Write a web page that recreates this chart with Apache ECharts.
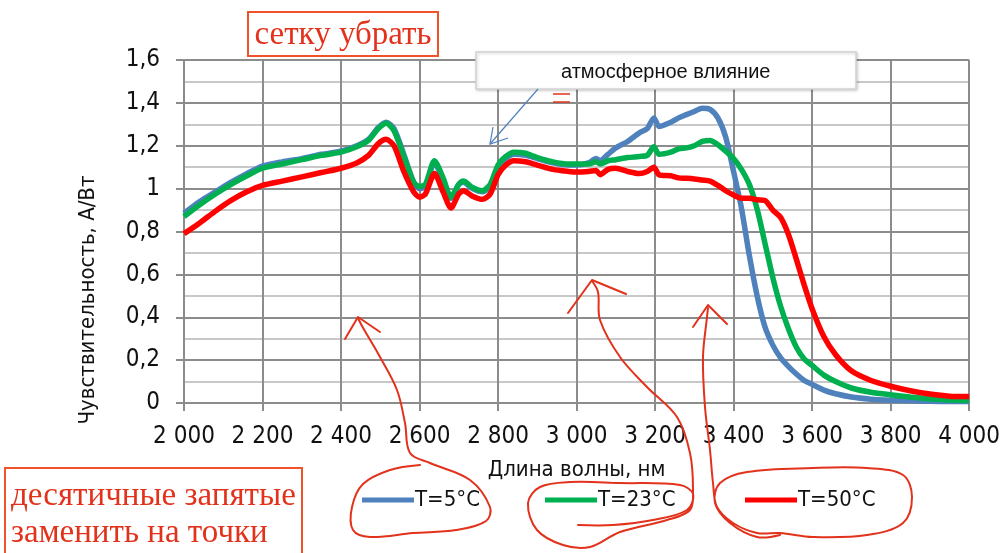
<!DOCTYPE html>
<html>
<head>
<meta charset="utf-8">
<script src="https://cdn.jsdelivr.net/npm/echarts@6/dist/echarts.min.js"></script>
<style>
  html, body { margin: 0; padding: 0; background: #fff; }
  #chart { width: 1003px; height: 553px; }
</style>
</head>
<body>
<div id="chart"></div>
<script>
// длины волн, нм
var wavelengths = [2000, 2040, 2080, 2120, 2160, 2200, 2250, 2300, 2350, 2400, 2440, 2470, 2495, 2515, 2535, 2560, 2585, 2600, 2615, 2638, 2660, 2680, 2700, 2712, 2735, 2760, 2780, 2800, 2820, 2840, 2870, 2900, 2940, 2980, 3000, 3030, 3050, 3060, 3080, 3100, 3130, 3160, 3180, 3197, 3210, 3240, 3260, 3280, 3300, 3320, 3340, 3360, 3380, 3400, 3420, 3440, 3460, 3480, 3500, 3520, 3540, 3560, 3580, 3600, 3630, 3660, 3700, 3750, 3800, 3850, 3900, 3950, 4000];

// T=5°C
var sens5 = [0.885, 0.94, 0.985, 1.03, 1.07, 1.105, 1.125, 1.14, 1.16, 1.175, 1.2, 1.23, 1.285, 1.31, 1.28, 1.16, 1.03, 1.0, 1.01, 1.12, 1.04, 0.955, 1.02, 1.03, 1.0, 0.985, 1.01, 1.1, 1.14, 1.16, 1.155, 1.14, 1.12, 1.11, 1.11, 1.12, 1.14, 1.13, 1.16, 1.19, 1.22, 1.26, 1.28, 1.33, 1.29, 1.31, 1.33, 1.345, 1.36, 1.375, 1.37, 1.33, 1.24, 1.08, 0.91, 0.69, 0.5, 0.355, 0.27, 0.21, 0.17, 0.135, 0.105, 0.087, 0.06, 0.043, 0.028, 0.018, 0.013, 0.01, 0.008, 0.007, 0.007];

// T=23°C
var sens23 = [0.87, 0.925, 0.975, 1.02, 1.06, 1.095, 1.115, 1.135, 1.155, 1.17, 1.195, 1.225, 1.28, 1.305, 1.27, 1.15, 1.03, 1.01, 1.02, 1.13, 1.05, 0.96, 1.02, 1.035, 1.005, 0.99, 1.02, 1.11, 1.15, 1.17, 1.165, 1.145, 1.125, 1.115, 1.115, 1.115, 1.125, 1.115, 1.13, 1.135, 1.145, 1.15, 1.155, 1.195, 1.16, 1.17, 1.185, 1.19, 1.2, 1.22, 1.225, 1.205, 1.175, 1.14, 1.09, 1.02, 0.905, 0.745, 0.585, 0.45, 0.345, 0.26, 0.205, 0.175, 0.13, 0.1, 0.07, 0.05, 0.038, 0.028, 0.02, 0.014, 0.012];

// T=50°C
var sens50 = [0.79, 0.84, 0.895, 0.945, 0.985, 1.015, 1.035, 1.055, 1.075, 1.095, 1.12, 1.155, 1.21, 1.23, 1.2, 1.08, 0.985, 0.96, 0.975, 1.07, 0.985, 0.91, 0.975, 0.99, 0.965, 0.95, 0.975, 1.065, 1.11, 1.13, 1.125, 1.11, 1.09, 1.08, 1.077, 1.08, 1.085, 1.065, 1.09, 1.095, 1.08, 1.07, 1.08, 1.1, 1.065, 1.06, 1.05, 1.048, 1.045, 1.04, 1.035, 1.015, 0.99, 0.97, 0.955, 0.955, 0.948, 0.945, 0.9, 0.865, 0.785, 0.67, 0.55, 0.44, 0.31, 0.225, 0.15, 0.105, 0.078, 0.057, 0.042, 0.032, 0.03];

var seriesNames = ['T=5°C', 'T=23°C', 'T=50°C'];
var seriesColors = ['#4f81bd', '#00b050', '#ff0000'];

var narrow = "'Liberation Sans Narrow', 'Arial Narrow', 'DejaVu Sans Condensed', sans-serif";
var ink = '#e2321c';

function pairs(vals) {
  return wavelengths.map(function (w, i) { return [w, vals[i]]; });
}

// рукописные пометки (пиксели)
var inkStrokes = [
  // петля T=5°C и стрелка
  [[358, 318], [362, 326], [380, 357], [397, 390], [405, 423], [410, 453], [430, 463], [470, 480], [490, 507], [486, 521], [456, 530], [413, 533], [370, 537], [353, 530], [352, 507], [363, 484], [390, 470], [420, 465]],
  [[345, 339], [358, 317], [380, 332]],
  // петля T=23°C и стрелка
  [[592, 281], [598, 292], [600, 320], [620, 357], [647, 387], [677, 417], [690, 453], [693, 490], [690, 510], [667, 520], [620, 532], [590, 547], [563, 545], [537, 530], [528, 503], [540, 487], [570, 482], [620, 483], [680, 485], [693, 494], [687, 510], [653, 520], [613, 525], [578, 525]],
  [[568, 313], [592, 280], [626, 294]],
  // петля T=50°C и стрелка
  [[708, 308], [707, 317], [703, 357], [705, 407], [710, 450], [713, 483], [717, 507], [733, 523], [757, 533], [780, 533], [813, 537], [867, 535], [903, 523], [912, 497], [903, 475], [867, 468], [813, 468], [747, 472], [720, 483], [715, 503], [730, 523], [757, 537], [780, 535]],
  [[693, 327], [708, 305], [727, 324]]
];

var graphics = [];
inkStrokes.forEach(function (pts, i) {
  graphics.push({
    type: 'polyline', z: 100,
    shape: { points: pts, smooth: i % 2 === 0 ? 0.35 : 0 },
    style: { stroke: ink, lineWidth: 2, fill: null, lineCap: 'round', lineJoin: 'round' }
  });
});

graphics.push(
  // подпись оси Y
  {
    type: 'text', x: 88, y: 300, rotation: Math.PI / 2, z: 50,
    style: { text: 'Чувствительность, А/Вт', font: '22px ' + narrow, fill: '#111', align: 'center', verticalAlign: 'middle' }
  },
  // выноска
  {
    type: 'rect', z: 60,
    shape: { x: 476, y: 52, width: 380, height: 37 },
    style: { fill: '#fff', stroke: '#d4d4d4', lineWidth: 1.5, shadowBlur: 3, shadowColor: 'rgba(0,0,0,0.18)', shadowOffsetX: 1, shadowOffsetY: 1 }
  },
  {
    type: 'text', x: 561, y: 72, z: 61,
    style: { text: 'атмосферное влияние', font: '20px "Liberation Sans", Arial, sans-serif', fill: '#111', verticalAlign: 'middle' }
  },
  {
    type: 'polyline', z: 61,
    shape: { points: [[538, 89], [490, 144]] },
    style: { stroke: '#4f81bd', lineWidth: 1.2, fill: null }
  },
  {
    type: 'polyline', z: 61,
    shape: { points: [[493, 127], [490, 144], [508, 138]] },
    style: { stroke: '#4f81bd', lineWidth: 1.2, fill: null }
  },
  {
    type: 'polyline', z: 61, shape: { points: [[553, 94], [570, 94]] },
    style: { stroke: ink, lineWidth: 1.5 }
  },
  {
    type: 'polyline', z: 61, shape: { points: [[553, 102], [570, 102]] },
    style: { stroke: ink, lineWidth: 1.5 }
  },
  // «сетку убрать»
  {
    type: 'rect', z: 90,
    shape: { x: 248, y: 12, width: 190, height: 44 },
    style: { fill: '#fff', stroke: '#f0522a', lineWidth: 2 }
  },
  {
    type: 'text', x: 343, y: 35, z: 91,
    style: { text: 'сетку убрать', font: '33px "Liberation Serif", "Times New Roman", serif', fill: ink, align: 'center', verticalAlign: 'middle' }
  },
  // «десятичные запятые заменить на точки»
  {
    type: 'rect', z: 90,
    shape: { x: 5, y: 468, width: 297, height: 90 },
    style: { fill: '#fff', stroke: '#f0522a', lineWidth: 2 }
  },
  {
    type: 'text', x: 11, y: 496, z: 91,
    style: { text: 'десятичные запятые', font: '33px "Liberation Serif", "Times New Roman", serif', fill: ink, verticalAlign: 'middle' }
  },
  {
    type: 'text', x: 11, y: 533, z: 91,
    style: { text: 'заменить на точки', font: '33px "Liberation Serif", "Times New Roman", serif', fill: ink, verticalAlign: 'middle' }
  }
);

var chart = echarts.init(document.getElementById('chart'), null, { renderer: 'canvas' });

var legendLeft = [357, 540, 740];

var option = {
  backgroundColor: '#ffffff',
  animation: false,
  grid: { left: 184, right: 32, top: 60, bottom: 150 },
  legend: seriesNames.map(function (n, i) {
    return {
      data: [n], left: legendLeft[i], top: 484,
      icon: 'rect', itemWidth: 52, itemHeight: 5, itemGap: 0,
      textStyle: { fontSize: 22, fontFamily: narrow, color: '#111', padding: [0, 0, 0, -4] }
    };
  }),
  xAxis: {
    type: 'value', min: 2000, max: 4000, interval: 200,
    name: 'Длина волны, нм', nameLocation: 'middle', nameGap: 56,
    nameTextStyle: { fontSize: 22, fontFamily: narrow, color: '#111' },
    axisLine: { show: true, lineStyle: { color: '#8c8c8c', width: 2 } },
    axisTick: { show: true, length: 8, lineStyle: { color: '#8c8c8c', width: 2 } },
    axisLabel: {
      fontSize: 24, fontFamily: narrow, color: '#111', margin: 22,
      formatter: function (v) { return String(v).replace(/\B(?=(\d{3})+(?!\d))/g, ' '); }
    },
    splitLine: { show: true, lineStyle: { color: '#8c8c8c', width: 2 } }
  },
  yAxis: {
    type: 'value', min: 0, max: 1.6, interval: 0.2,
    axisLine: { show: true, lineStyle: { color: '#8c8c8c', width: 2 } },
    axisTick: { show: true, length: 8, lineStyle: { color: '#8c8c8c', width: 2 } },
    axisLabel: {
      fontSize: 24, fontFamily: narrow, color: '#111', margin: 24,
      formatter: function (v) { return String(+v.toFixed(1)).replace('.', ','); }
    },
    splitLine: { show: true, lineStyle: { color: '#8c8c8c', width: 2 } },
    minorTick: { show: false, splitNumber: 2 },
    minorSplitLine: { show: true, lineStyle: { color: '#c8c8c8', width: 2 } }
  },
  series: [sens5, sens23, sens50].map(function (vals, i) {
    return {
      name: seriesNames[i], type: 'line', data: pairs(vals),
      symbol: 'none', smooth: 0.25,
      lineStyle: { color: seriesColors[i], width: 5.5 },
      itemStyle: { color: seriesColors[i] }
    };
  }),
  graphic: graphics
};

chart.setOption(option);
</script>
</body>
</html>
